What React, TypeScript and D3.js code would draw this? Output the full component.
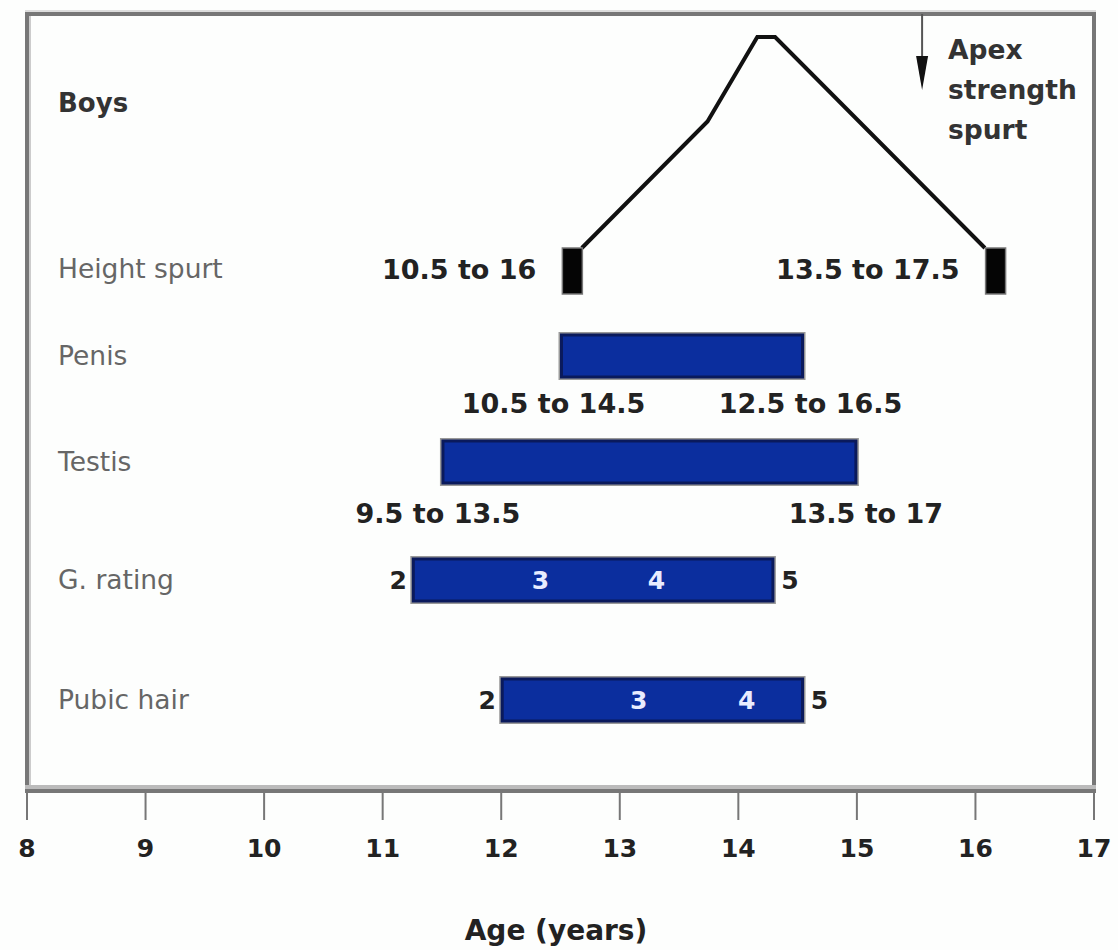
import React from 'react';
import * as d3 from 'd3';

// age range of the axis
const ageTicks = [8, 9, 10, 11, 12, 13, 14, 15, 16, 17];

// height spurt curve (age, relative level)
const spurtAges = [12.68, 13.74, 14.16, 14.31, 16.08];
const spurtLevels = [0, 0.6, 1, 1, 0];
// start / end markers of the height spurt
const spurtMarkers = [12.6, 16.17];
const spurtLabels = ['10.5 to 16', '13.5 to 17.5'];

// bars
const barRows = ['Penis', 'Testis', 'G. rating', 'Pubic hair'];
const barStart = [12.5, 11.5, 11.25, 12.0];
const barEnd = [14.55, 15.0, 14.3, 14.55];
const penisLabels = ['10.5 to 14.5', '12.5 to 16.5'];
const testisLabels = ['9.5 to 13.5', '13.5 to 17'];

// stage markers (3 and 4 inside bars)
const gStages = [12.33, 13.31];
const pubicStages = [13.16, 14.07];
const stageNames = ['2', '3', '4', '5'];

const apexAge = 15.55;
const apexText = ['Apex', 'strength', 'spurt'];

const W = 1118;
const H = 950;
const axisY = 790;

// vertical centre of each row (layout only)
const rowY: Record<string, number> = {
  Boys: 103,
  'Height spurt': 269,
  Penis: 356,
  Testis: 462,
  'G. rating': 580,
  'Pubic hair': 700,
};

const FONT = '"DejaVu Sans", Verdana, sans-serif';

const App: React.FC = () => {
  const x = d3.scaleLinear().domain([8, 17]).range([27, 1094]);
  const y = d3.scaleLinear().domain([0, 1]).range([248, 37]);

  const line = d3
    .line<number>()
    .x((_, i) => x(spurtAges[i]))
    .y((d) => y(d));

  const barH = 44;

  const stageRows = [
    { row: 'G. rating', inner: gStages, i: 2 },
    { row: 'Pubic hair', inner: pubicStages, i: 3 },
  ];

  return (
    <svg
      width={W}
      height={H}
      style={{ position: 'absolute', left: 0, top: 0, background: '#fdfefd' }}
      fontFamily={FONT}
    >
      {/* frame */}
      <line x1={25} x2={1096} y1={11} y2={11} stroke="#ddd" strokeWidth={2} />
      <line x1={25} x2={1096} y1={14} y2={14} stroke="#777" strokeWidth={4} />
      <line x1={27} x2={27} y1={12} y2={axisY} stroke="#777" strokeWidth={4} />
      <line x1={30} x2={30} y1={16} y2={axisY} stroke="#ccc" strokeWidth={2} />
      <line x1={1094} x2={1094} y1={12} y2={axisY} stroke="#777" strokeWidth={4} />

      {/* axis */}
      <line x1={25} x2={1096} y1={axisY - 3} y2={axisY - 3} stroke="#bbb" strokeWidth={4} />
      <line x1={25} x2={1096} y1={axisY + 1} y2={axisY + 1} stroke="#777" strokeWidth={4} />
      {ageTicks.map((t) => (
        <g key={t}>
          <line x1={x(t)} x2={x(t)} y1={axisY} y2={820} stroke="#777" strokeWidth={2} />
          <text
            x={x(t)}
            y={857}
            textAnchor="middle"
            fontSize={25}
            fontWeight="bold"
            fill="#222"
          >
            {t}
          </text>
        </g>
      ))}
      <text x={556} y={940} textAnchor="middle" fontSize={28} fontWeight="bold" fill="#222">
        Age (years)
      </text>

      {/* row labels */}
      <text x={58} y={rowY.Boys + 9} fontSize={26} fontWeight="bold" fill="#333">
        Boys
      </text>
      {['Height spurt', ...barRows].map((r) => (
        <text key={r} x={58} y={rowY[r] + 9} fontSize={26.5} fill="#666">
          {r}
        </text>
      ))}

      {/* apex arrow */}
      <line x1={x(apexAge)} x2={x(apexAge)} y1={14} y2={80} stroke="#555" strokeWidth={2} />
      <path
        d={`M${x(apexAge) - 6},${56} L${x(apexAge) + 6},${56} L${x(apexAge)},${90} Z`}
        fill="#111"
      />
      {apexText.map((t, i) => (
        <text key={t} x={948} y={59 + i * 40} fontSize={26.5} fontWeight="bold" fill="#333">
          {t}
        </text>
      ))}

      {/* height spurt curve */}
      <path d={line(spurtLevels) || ''} fill="none" stroke="#111" strokeWidth={4} strokeLinejoin="miter" />
      {spurtMarkers.map((m) => (
        <rect
          key={m}
          x={x(m) - 10}
          y={rowY['Height spurt'] - 21}
          width={20}
          height={46}
          fill="#050505"
          stroke="#777"
          strokeWidth={1.5}
        />
      ))}
      {spurtLabels.map((l, i) => (
        <text
          key={l}
          x={x(spurtMarkers[i]) - 36}
          y={rowY['Height spurt'] + 10}
          textAnchor="end"
          fontSize={27}
          fontWeight="bold"
          fill="#222"
        >
          {l}
        </text>
      ))}

      {/* bars */}
      {barRows.map((r, i) => (
        <g key={r}>
          <rect
            x={x(barStart[i]) - 2}
            y={rowY[r] - barH / 2 - 2}
            width={x(barEnd[i]) - x(barStart[i]) + 4}
            height={barH + 4}
            fill="#999"
          />
          <rect
            x={x(barStart[i]) + 1}
            y={rowY[r] - barH / 2 + 1}
            width={x(barEnd[i]) - x(barStart[i]) - 2}
            height={barH - 2}
            fill="#0b2e9e"
            stroke="#0a1a5c"
            strokeWidth={3}
          />
        </g>
      ))}

      {/* range labels under penis and testis bars */}
      {penisLabels.map((l, i) => (
        <text
          key={l}
          x={i === 0 ? x(barStart[0]) - 7 : x(barEnd[0]) + 7}
          y={rowY.Penis + 57}
          textAnchor="middle"
          fontSize={27}
          fontWeight="bold"
          fill="#222"
        >
          {l}
        </text>
      ))}
      {testisLabels.map((l, i) => (
        <text
          key={l}
          x={i === 0 ? x(barStart[1]) - 4 : x(barEnd[1]) + 9}
          y={rowY.Testis + 61}
          textAnchor="middle"
          fontSize={27}
          fontWeight="bold"
          fill="#222"
        >
          {l}
        </text>
      ))}

      {/* stage numbers */}
      {stageRows.map((s) => {
        const cy = rowY[s.row] + 9;
        const pos = [x(barStart[s.i]) - 14, x(s.inner[0]), x(s.inner[1]), x(barEnd[s.i]) + 16];
        return stageNames.map((n, k) => (
          <text
            key={s.row + n}
            x={pos[k]}
            y={cy}
            textAnchor="middle"
            fontSize={25}
            fontWeight="bold"
            fill={k === 1 || k === 2 ? '#e8ecff' : '#222'}
          >
            {n}
          </text>
        ));
      })}
    </svg>
  );
};

export default App;
